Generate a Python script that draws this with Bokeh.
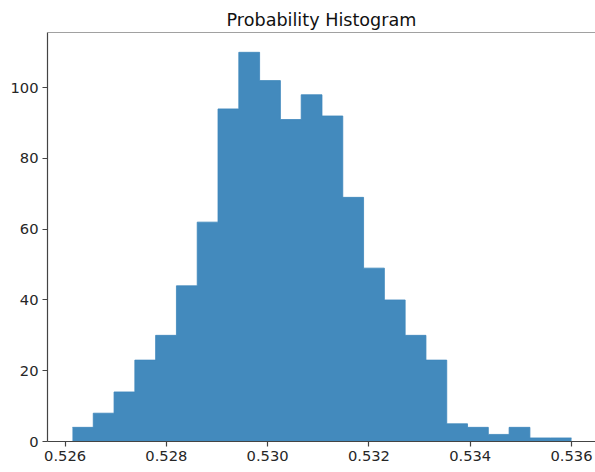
from bokeh.plotting import figure
from bokeh.models import FixedTicker, PrintfTickFormatter, Span, ColumnDataSource
from bokeh.embed import file_html
from bokeh.resources import INLINE

# Histogram data (24 bins)
counts = [4, 8, 14, 23, 30, 44, 62, 94, 110, 102, 91, 98,
          92, 69, 49, 40, 30, 23, 5, 4, 2, 4, 1, 1]
bin_start = 0.526146
bin_end = 0.536
x_ticks = [0.526, 0.528, 0.530, 0.532, 0.534, 0.536]
y_ticks = [0, 20, 40, 60, 80, 100]

n = len(counts)
w = (bin_end - bin_start) / n
edges = [bin_start + i * w for i in range(n + 1)]
src = ColumnDataSource(dict(x=edges, y1=[0] * (n + 1), y2=counts + [counts[-1]]))

p = figure(width=595, height=472, output_backend="svg", toolbar_location=None,
           x_range=(0.525653, 0.536474), y_range=(0, 115.6),
           min_border_left=47, min_border_right=0, min_border_top=32, min_border_bottom=31,
           title="Probability Histogram")
p.outline_line_color = None
p.background_fill_color = "white"
p.border_fill_color = "white"
p.xgrid.visible = False
p.ygrid.visible = False

p.varea_step(x="x", y1="y1", y2="y2", step_mode="after", source=src,
             fill_color="#438abd")
p.step(x="x", y="y2", mode="after", source=src, line_color="#3d86bb", line_width=0.8)

p.title.align = "center"
p.title.text_font = "DejaVu Sans"
p.title.text_font_size = "17.6px"
p.title.text_font_style = "normal"
p.title.text_color = "#111111"
p.title.offset = 0
p.title.standoff = 5

for ax in (p.xaxis[0], p.yaxis[0]):
    ax.axis_line_color = "#444444"
    ax.axis_line_width = 1.2
    ax.major_tick_line_color = "#444444"
    ax.major_tick_line_width = 1.2
    ax.major_tick_in = 0
    ax.major_tick_out = 5
    ax.minor_tick_line_color = None
    ax.major_label_text_font = "DejaVu Sans"
    ax.major_label_text_font_size = "14.7px"
    ax.major_label_text_color = "#262626"
    ax.major_label_standoff = 4

p.xaxis.ticker = FixedTicker(ticks=x_ticks)
p.xaxis.formatter = PrintfTickFormatter(format="%.3f")
p.yaxis.ticker = FixedTicker(ticks=y_ticks)
p.yaxis.formatter = PrintfTickFormatter(format="%d")

top_spine = Span(location=115.6, dimension="width", line_color="#444444", line_width=1.2)
p.add_layout(top_spine)

open("out.html", "w").write(file_html(p, INLINE))
